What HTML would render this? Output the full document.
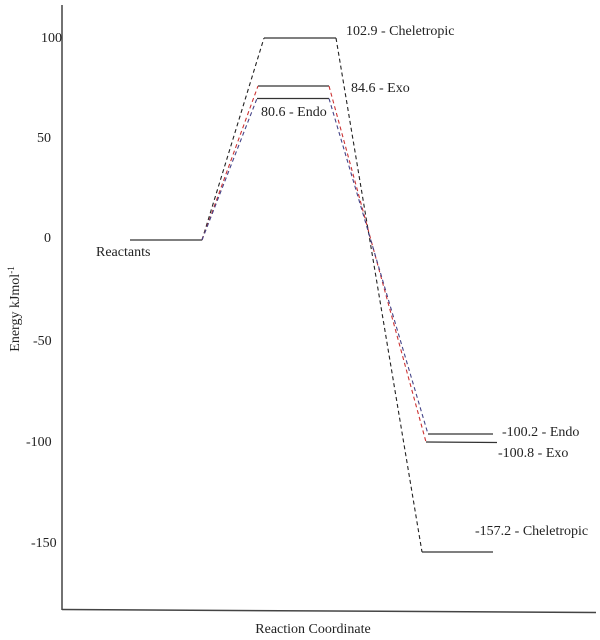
<!DOCTYPE html>
<html><head><meta charset="utf-8"><style>
html,body{margin:0;padding:0;background:#fff;}
svg{display:block;}
text{font-family:"Liberation Serif",serif;font-size:14px;fill:#222;}
</style></head><body>
<svg width="600" height="640" viewBox="0 0 600 640" xmlns="http://www.w3.org/2000/svg">
<!-- axes -->
<line x1="62" y1="5" x2="62" y2="610" stroke="#444" stroke-width="1.5"/>
<line x1="62" y1="609.5" x2="596" y2="612.5" stroke="#444" stroke-width="1.5"/>
<!-- tick labels -->
<text x="41" y="42">100</text>
<text x="37" y="142">50</text>
<text x="44" y="242">0</text>
<text x="33" y="345">-50</text>
<text x="26" y="446">-100</text>
<text x="31" y="547">-150</text>
<!-- axis titles -->
<text transform="translate(19,309) rotate(-90)" text-anchor="middle">Energy kJmol<tspan dy="-5" font-size="9">-1</tspan></text>
<text x="313" y="633" text-anchor="middle">Reaction Coordinate</text>
<!-- levels -->
<g stroke="#333" stroke-width="1.3">
<line x1="130" y1="240" x2="202" y2="240"/>
<line x1="264" y1="38" x2="336" y2="38"/>
<line x1="258" y1="86" x2="329" y2="86"/>
<line x1="257" y1="98.5" x2="329" y2="98.5"/>
<line x1="428" y1="434" x2="493" y2="434"/>
<line x1="426" y1="442" x2="497" y2="442.5"/>
<line x1="422" y1="552" x2="493" y2="552"/>
</g>
<!-- dashed connectors -->
<g fill="none" stroke-width="1.1" stroke-dasharray="4,3">
<polyline points="202,240 264,38" stroke="#222"/>
<polyline points="336,38 422,552" stroke="#222"/>
<polyline points="202,240 258,86" stroke="#c33"/>
<polyline points="329,86 426,442" stroke="#c33"/>
<polyline points="202,240 257,98.5" stroke="#448"/>
<polyline points="329,98.5 428,434" stroke="#448"/>
</g>
<!-- labels -->
<text x="96" y="256">Reactants</text>
<text x="346" y="35">102.9 - Cheletropic</text>
<text x="351" y="92">84.6 - Exo</text>
<text x="261" y="116">80.6 - Endo</text>
<text x="502" y="436">-100.2 - Endo</text>
<text x="498" y="457">-100.8 - Exo</text>
<text x="475" y="535">-157.2 - Cheletropic</text>
</svg>
</body></html>
